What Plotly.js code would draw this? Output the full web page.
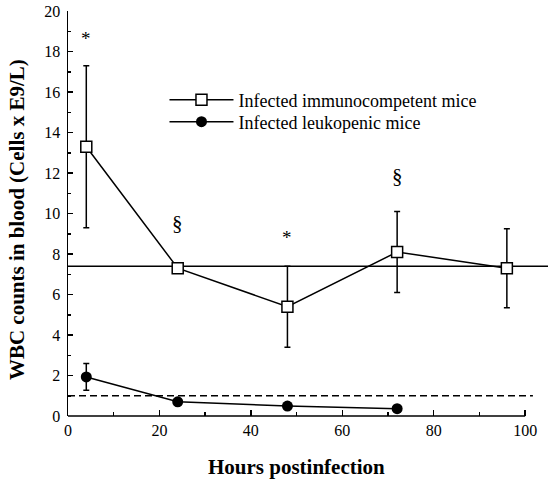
<!DOCTYPE html>
<html>
<head>
<meta charset="utf-8">
<script src="https://cdn.plot.ly/plotly-3.0.1.min.js"></script>
<style>html,body{margin:0;padding:0;background:#fff;}#chart{width:555px;height:482px;}</style>
</head>
<body>
<div id="chart"></div>
<script>
// Data
var hours = [4, 24, 48, 72, 96];
var immunoMean = [13.3, 7.3, 5.4, 8.1, 7.3];
var immunoErr = [4.0, 0, 2.0, 2.0, 1.95];
var leukoHours = [4, 24, 48, 72];
var leukoMean = [1.93, 0.7, 0.49, 0.36];
var leukoErr = [0.66, 0, 0, 0];
var baselineImmuno = 7.4;   // solid reference line
var baselineLeuko = 1.0;    // dashed reference line
var sigX = [4, 24, 48, 72];
var sigY = [18.65, 9.55, 8.8, 11.85];
var sigText = ['*', '§', '*', '§'];
var xTicks = [0, 20, 40, 60, 80, 100];
var yTicks = [0, 2, 4, 6, 8, 10, 12, 14, 16, 18, 20];

var serif = 'Liberation Serif, Times New Roman, Times, serif';

var traces = [
  {
    x: hours, y: immunoMean, type: 'scatter', mode: 'lines+markers',
    name: 'Infected immunocompetent mice', legend: 'legend',
    line: {color: '#000', width: 1.5},
    marker: {symbol: 'square', size: 11, color: '#fff', line: {color: '#000', width: 1.5}},
    error_y: {type: 'data', array: immunoErr, visible: true, color: '#000', thickness: 1.5, width: 3}
  },
  {
    x: leukoHours, y: leukoMean, type: 'scatter', mode: 'lines+markers',
    name: 'Infected leukopenic mice', legend: 'legend2',
    line: {color: '#000', width: 1.5},
    marker: {symbol: 'circle', size: 11, color: '#000'},
    error_y: {type: 'data', array: leukoErr, visible: true, color: '#000', thickness: 1.5, width: 3}
  }
];

var annotations = sigText.map(function (t, i) {
  return {x: sigX[i], y: sigY[i], xref: 'x', yref: 'y', text: t, showarrow: false,
          font: {family: serif, size: t === '§' ? 21 : 19, color: '#000'}};
});
annotations.push({
  x: 50, xref: 'x', y: -0.126, yref: 'paper', text: 'Hours postinfection', showarrow: false,
  yanchor: 'middle', font: {family: serif, size: 21, color: '#000', weight: 'bold'}
});
annotations.push({
  x: -0.106, xref: 'paper', y: 0.484, yref: 'paper', text: 'WBC counts in blood (Cells x E9/L)',
  showarrow: false, textangle: -90, xanchor: 'center', yanchor: 'middle',
  font: {family: serif, size: 21, color: '#000', weight: 'bold'}
});

var legendBase = {
  xanchor: 'left', yanchor: 'middle',
  bgcolor: 'rgba(0,0,0,0)', borderwidth: 0,
  font: {family: serif, size: 18, color: '#000'},
  itemwidth: 64
};
var legend1 = Object.assign({}, legendBase, {x: 0.201, y: 0.780});
var legend2 = Object.assign({}, legendBase, {x: 0.201, y: 0.726});

var layout = {
  width: 555, height: 482,
  margin: {l: 68, r: 7, t: 11, b: 66},
  paper_bgcolor: '#fff', plot_bgcolor: '#fff',
  showlegend: true,
  legend: legend1,
  legend2: legend2,
  xaxis: {
    range: [0, 105], showgrid: false, zeroline: false, showline: false,
    tickmode: 'array', tickvals: xTicks, ticktext: xTicks.map(String),
    ticks: 'inside', ticklen: 6, tickwidth: 1.5, tickcolor: '#000',
    minor: {dtick: 10, tick0: 0, ticks: 'inside', ticklen: 4, tickwidth: 1.5, tickcolor: '#000'},
    tickfont: {family: serif, size: 16, color: '#000'},
    ticklabelstandoff: 3
  },
  yaxis: {
    range: [0, 20], showgrid: false, zeroline: false, showline: true, linecolor: '#000', linewidth: 1.5,
    tickmode: 'array', tickvals: yTicks, ticktext: yTicks.map(String),
    ticks: 'inside', ticklen: 5, tickwidth: 1.5, tickcolor: '#000',
    minor: {dtick: 1, tick0: 0, ticks: 'inside', ticklen: 3, tickwidth: 1.5, tickcolor: '#000'},
    tickfont: {family: serif, size: 16, color: '#000'},
    ticklabelstandoff: 3
  },
  shapes: [
    {type: 'line', xref: 'x', x0: 0, x1: 100, yref: 'paper', y0: 0, y1: 0,
     line: {color: '#000', width: 1.5}, layer: 'above'},
    {type: 'line', xref: 'paper', x0: 0, x1: 1, yref: 'y', y0: baselineImmuno, y1: baselineImmuno,
     line: {color: '#000', width: 1.5}, layer: 'below'},
    {type: 'line', xref: 'x', x0: 0, x1: 101.7, yref: 'y', y0: baselineLeuko, y1: baselineLeuko,
     line: {color: '#000', width: 1.5, dash: '7px,4px'}, layer: 'below'}
  ],
  annotations: annotations
};

Plotly.newPlot('chart', traces, layout, {displayModeBar: false, staticPlot: true});
</script>
</body>
</html>
